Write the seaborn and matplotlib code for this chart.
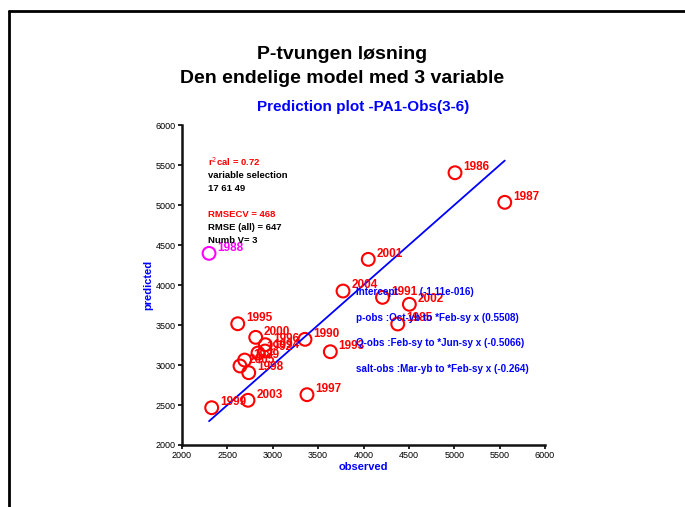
import matplotlib
matplotlib.use("Agg")
import matplotlib.pyplot as plt
from matplotlib.lines import Line2D
import numpy as np
import pandas as pd
import seaborn as sns

# data
years = ["1986", "1987", "1988", "1990", "1991", "1993", "1995", "1996", "1997",
         "1998", "1999", "2000", "2001", "2002", "2003", "2004", "1985", "1989",
         "1992", "1994", "2005"]
observed = [5008, 5556, 2298, 3355, 4209, 3634, 2614, 2918, 3377,
            2735, 2327, 2812, 4052, 4505, 2727, 3774, 4377, 2690,
            2837, 2915, 2639]
predicted = [5404, 5034, 4396, 3321, 3846, 3166, 3516, 3254, 2629,
             2904, 2466, 3346, 4321, 3759, 2559, 3925, 3513, 3062,
             3150, 3175, 2988]
outlier_year = "1988"

stats_lines = ["r$^2$cal = 0.72", "variable selection", "17 61 49", "",
               "RMSECV = 468", "RMSE (all) = 647", "Numb V= 3"]
stats_colors = ["red", "black", "black", None, "red", "black", "black"]
coef_lines = ["Intercept        (-1.11e-016)",
              "p-obs :Oct-yb to *Feb-sy x (0.5508)",
              "Q-obs :Feb-sy to *Jun-sy x (-0.5066)",
              "salt-obs :Mar-yb to *Feb-sy x (-0.264)"]

df = pd.DataFrame({"year": years, "observed": observed, "predicted": predicted})
df["group"] = np.where(df["year"] == outlier_year, "out", "in")

sns.set_style("white")
plt.rcParams["font.family"] = ["Liberation Sans", "DejaVu Sans"]
plt.rcParams["text.color"] = "black"
plt.rcParams["xtick.color"] = "black"
plt.rcParams["ytick.color"] = "black"

fig = plt.figure(figsize=(6.85, 5.07), dpi=100)
ax = fig.add_axes([0.2657, 0.1223, 0.530, 0.631])

# identity line over the observed range
lo, hi = min(observed), max(observed)
line_df = pd.DataFrame({"x": [lo, hi], "y": [lo, hi]})
sns.lineplot(data=line_df, x="x", y="y", color="blue", linewidth=1.3, ax=ax)

sns.scatterplot(data=df, x="observed", y="predicted", hue="group",
                palette={"in": "red", "out": "#ff00ff"}, marker="o",
                s=85, linewidth=1.5, legend=False, ax=ax)
# seaborn fills markers; make them hollow
for coll in ax.collections:
    coll.set_facecolor("none")
    cols = ["#ff00ff" if g == "out" else "red" for g in df["group"]]
    coll.set_edgecolor(cols)

for yr, x, y, g in zip(df["year"], df["observed"], df["predicted"], df["group"]):
    ax.annotate(yr, (x, y), xytext=(6, 4), textcoords="offset points",
                color="#ff00ff" if g == "out" else "red",
                fontsize=8.5, fontweight="bold", va="center")

ax.set_xlim(2000, 6000)
ax.set_ylim(2000, 6000)
ax.set_xticks(np.arange(2000, 6001, 500))
ax.set_yticks(np.arange(2000, 6001, 500))
ax.tick_params(labelsize=6.5, length=3, width=1.2, direction="out",
               bottom=True, left=True, pad=1.5)
sns.despine(ax=ax)
for s in ["left", "bottom"]:
    ax.spines[s].set_linewidth(1.8)
    ax.spines[s].set_color("#111111")

ax.set_xlabel("observed", color="blue", fontsize=8, fontweight="bold", labelpad=1)
ax.set_ylabel("predicted", color="blue", fontsize=8, fontweight="bold", labelpad=2)
ax.set_title("Prediction plot -PA1-Obs(3-6)", color="blue", fontsize=11,
             fontweight="bold", pad=10)

# stats text block
y0 = 5537
for txt, c in zip(stats_lines, stats_colors):
    if txt:
        ax.text(2286, y0, txt, color=c, fontsize=6.8, fontweight="bold",
                va="center", ha="left")
    y0 -= 163

yb = 3913
for txt in coef_lines:
    ax.text(3917, yb, txt, color="blue", fontsize=7.1, fontweight="bold",
            va="center", ha="left")
    yb -= 321

fig.text(0.5, 0.893, "P-tvungen løsning", ha="center", va="center",
         fontsize=14, fontweight="bold", color="black")
fig.text(0.5, 0.845, "Den endelige model med 3 variable", ha="center",
         va="center", fontsize=14, fontweight="bold", color="black")

# page frame
fig.add_artist(Line2D([9 / 685, 9 / 685], [0, 1 - 11 / 507], color="black",
                      linewidth=2, transform=fig.transFigure))
fig.add_artist(Line2D([9 / 685, 1], [1 - 11 / 507, 1 - 11 / 507], color="black",
                      linewidth=2, transform=fig.transFigure))

fig.savefig("out.png", dpi=100)
